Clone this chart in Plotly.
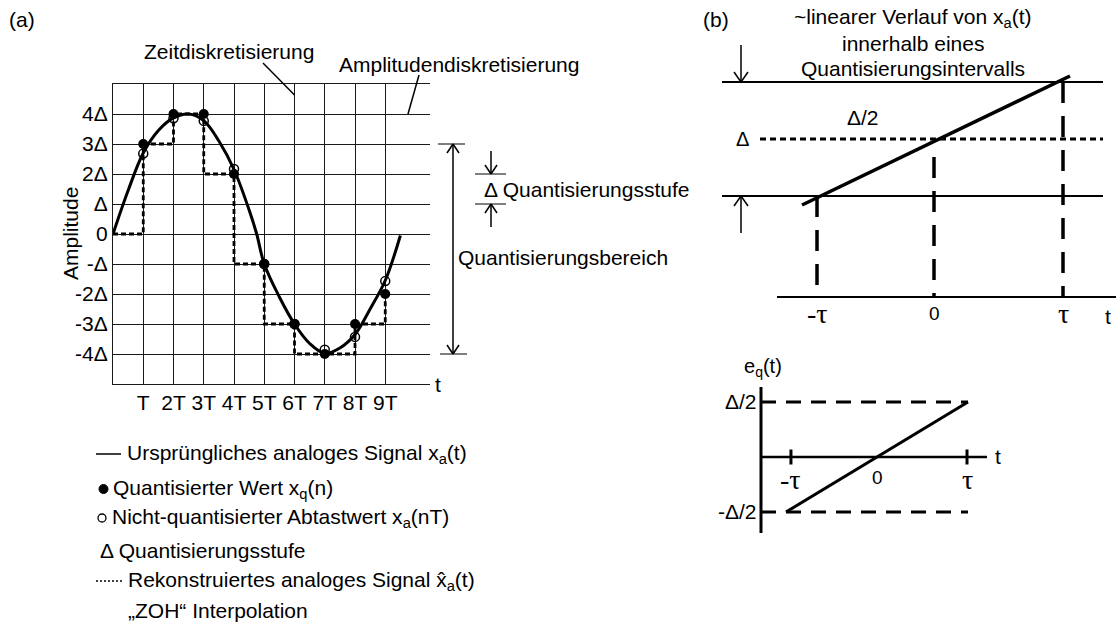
import plotly.graph_objects as go

W, H = 1116, 626
SANS = "Arial, 'Liberation Sans', Helvetica, sans-serif"
SERIF = "'Liberation Serif', 'Times New Roman', serif"
INK = "#000000"
GRID = "#1a1a1a"
FS = 21

# ---------------- Panel (a) data ----------------
curve_t = [0, 0.5, 1, 1.5, 2, 2.5, 3, 3.5, 4, 4.5, 4.75, 5, 5.5, 6, 6.5, 7, 7.5, 8, 8.5, 9, 9.5]
curve_v = [0, 1.45, 2.7, 3.45, 3.87, 4.0, 3.78, 3.1, 2.15, 0.8, 0.0, -1.0, -2.1, -3.0, -3.65, -3.98,
           -3.8, -3.35, -2.5, -1.55, -0.05]
sample_n = [1, 2, 3, 4, 5, 6, 7, 8, 9]
quantized_v = [3, 4, 4, 2, -1, -3, -4, -3, -2]
sampled_v = [2.68, 3.86, 3.77, 2.17, -1.0, -3.0, -3.86, -3.43, -1.57]
zoh_t = [0, 1, 2, 3, 4, 5, 6, 7, 8, 9]
zoh_v = [0, 3, 4, 2, -1, -3, -4, -4, -3, -2]
a_xtick_vals = [1, 2, 3, 4, 5, 6, 7, 8, 9]
a_xtick_text = ["T", "2T", "3T", "4T", "5T", "6T", "7T", "8T", "9T"]
a_ytick_vals = [-4, -3, -2, -1, 0, 1, 2, 3, 4]
a_ytick_text = ["-4Δ", "-3Δ", "-2Δ", "-Δ", "0", "Δ", "2Δ", "3Δ", "4Δ"]
range_top, range_bottom = 3, -4          # Quantisierungsbereich
step_top, step_bottom = 2, 1             # Quantisierungsstufe

# ---------------- Panel (b) top data ----------------
b1_upper, b1_mid, b1_lower = 0.5, 0.0, -0.5
b1_ramp_x = [-1.023, 1.054]
b1_ramp_y = [-0.579, 0.553]
b1_tick_vals = [-0.907, 0.0, 1.0]
b1_tick_text = ["-τ", "0", "τ"]
b1_drop_top = [-0.5, -0.158, 0.5]
b1_axis_y = -1.386

# ---------------- Panel (b) bottom data ----------------
b2_ramp_x = [-1.011, 1.011]
b2_ramp_y = [-0.5, 0.5]
b2_levels = [0.5, -0.5]
b2_level_text = ["Δ/2", "-Δ/2"]
b2_tick_vals = [-0.956, 1.0]
b2_label_vals = [-0.956, 0.0, 1.0]
b2_label_text = ["-τ", "0", "τ"]


def fx(px):
    return px / W


def fy(py):
    return 1 - py / H


# ---------------- geometry ----------------
A_X0, A_X1, A_T = 113, 430, 30.25
A_Y0, A_Y1 = 84, 384
B1_OX, B1_OY, B1_SX, B1_SY = 934, 139, 129, 114
B1_TOP, B1_BOT = 0, 330
B2_OX, B2_OY, B2_SX, B2_SY = 877, 457, 90, 110
B2_TOP, B2_BOT = 340, 626
B_LEFT = 700

fig = go.Figure()

# ---- panel (a) traces ----
fig.add_trace(go.Scatter(x=zoh_t, y=zoh_v, mode="lines", line=dict(color=INK, width=2.8, dash="5px,3px", shape="hv"),
                         xaxis="x", yaxis="y", hoverinfo="skip"))
fig.add_trace(go.Scatter(x=curve_t, y=curve_v, mode="lines", line=dict(color=INK, width=3, shape="spline", smoothing=1.0),
                         xaxis="x", yaxis="y", hoverinfo="skip"))
fig.add_trace(go.Scatter(x=sample_n, y=sampled_v, mode="markers",
                         marker=dict(symbol="circle-open", size=9, color=INK, line=dict(width=1.5, color=INK)),
                         xaxis="x", yaxis="y", hoverinfo="skip"))
fig.add_trace(go.Scatter(x=sample_n, y=quantized_v, mode="markers",
                         marker=dict(symbol="circle", size=10, color=INK),
                         xaxis="x", yaxis="y", hoverinfo="skip"))

# ---- panel (b) top traces ----
b1_xl = (722 - B1_OX) / B1_SX
b1_xr = (1103 - B1_OX) / B1_SX
b1_xmid_l = (760 - B1_OX) / B1_SX
b1_axis_l = (777 - B1_OX) / B1_SX
b1_axis_r = (1116 - B1_OX) / B1_SX
fig.add_trace(go.Scatter(x=[b1_xl, b1_xr], y=[b1_upper, b1_upper], mode="lines", line=dict(color=INK, width=2),
                         xaxis="x2", yaxis="y2", hoverinfo="skip"))
fig.add_trace(go.Scatter(x=[b1_xl, b1_xr], y=[b1_lower, b1_lower], mode="lines", line=dict(color=INK, width=2),
                         xaxis="x2", yaxis="y2", hoverinfo="skip"))
fig.add_trace(go.Scatter(x=[b1_xmid_l, b1_xr], y=[b1_mid, b1_mid], mode="lines",
                         line=dict(color=INK, width=3, dash="6px,4px"), xaxis="x2", yaxis="y2", hoverinfo="skip"))
for tv, top in zip(b1_tick_vals, b1_drop_top):
    fig.add_trace(go.Scatter(x=[tv, tv], y=[top, b1_axis_y], mode="lines",
                             line=dict(color=INK, width=3.5, dash="21px,13px"), xaxis="x2", yaxis="y2", hoverinfo="skip"))
fig.add_trace(go.Scatter(x=b1_ramp_x, y=b1_ramp_y, mode="lines", line=dict(color=INK, width=3.5),
                         xaxis="x2", yaxis="y2", hoverinfo="skip"))
fig.add_trace(go.Scatter(x=[b1_axis_l, b1_axis_r], y=[b1_axis_y, b1_axis_y], mode="lines", line=dict(color=INK, width=2),
                         xaxis="x2", yaxis="y2", hoverinfo="skip"))

# ---- panel (b) bottom traces ----
b2_axis_x = (761 - B2_OX) / B2_SX
b2_axis_r = (987 - B2_OX) / B2_SX
b2_dash_r = (968 - B2_OX) / B2_SX
b2_vtop = (B2_OY - 387) / B2_SY
b2_vbot = (B2_OY - 533) / B2_SY
b2_tick_h = 7.5 / B2_SY
for lv in b2_levels:
    fig.add_trace(go.Scatter(x=[b2_axis_x, b2_dash_r], y=[lv, lv], mode="lines",
                             line=dict(color=INK, width=3, dash="15px,10px"), xaxis="x3", yaxis="y3", hoverinfo="skip"))
fig.add_trace(go.Scatter(x=[b2_axis_x, b2_axis_x], y=[b2_vtop, b2_vbot], mode="lines", line=dict(color=INK, width=3),
                         xaxis="x3", yaxis="y3", hoverinfo="skip"))
fig.add_trace(go.Scatter(x=[b2_axis_x, b2_axis_r], y=[0, 0], mode="lines", line=dict(color=INK, width=2.5),
                         xaxis="x3", yaxis="y3", hoverinfo="skip"))
for tv in b2_tick_vals:
    fig.add_trace(go.Scatter(x=[tv, tv], y=[-b2_tick_h, b2_tick_h], mode="lines", line=dict(color=INK, width=3),
                             xaxis="x3", yaxis="y3", hoverinfo="skip"))
fig.add_trace(go.Scatter(x=b2_ramp_x, y=b2_ramp_y, mode="lines", line=dict(color=INK, width=3),
                         xaxis="x3", yaxis="y3", hoverinfo="skip"))

annotations = []
shapes = []


def text(t, x, y, xref="paper", yref="paper", size=FS, xanchor="center", yanchor="middle", family=SANS, angle=0):
    annotations.append(dict(text=t, x=x, y=y, xref=xref, yref=yref, showarrow=False, xanchor=xanchor,
                            yanchor=yanchor, textangle=angle, font=dict(family=family, size=size, color=INK)))


def line(x0, y0, x1, y1, xref="paper", yref="paper", width=1.5, dash="solid"):
    shapes.append(dict(type="line", xref=xref, yref=yref, x0=x0, y0=y0, x1=x1, y1=y1,
                       line=dict(color=INK, width=width, dash=dash)))


def chevron(x, y, direction, xref="paper", yref="paper", w=6, h=9, width=1.5):
    # open arrowhead: two short strokes ending at the tip (x, y); sizes in pixels
    dy = h if direction == "down" else -h
    for dx in (-w, w):
        shapes.append(dict(type="line", xref=xref, yref=yref, xsizemode="pixel", ysizemode="pixel",
                           xanchor=x, yanchor=y, x0=0, y0=0, x1=dx, y1=dy,
                           line=dict(color=INK, width=width)))


# ---- panel (a) annotations ----
text("(a)", fx(22), fy(20))
text("Zeitdiskretisierung", fx(229), fy(52))
text("Amplitudendiskretisierung", fx(459), fy(65))
line(fx(263), fy(63), fx(A_X0 + 6 * A_T), fy(95))
line(fx(419), fy(75), fx(408), fy(A_Y0 + 30))
text("t", fx(438), -5, yref="y")
text("Amplitude", fx(70), 0, yref="y", angle=-90)

# range arrow
RX = fx(453)
line(RX, range_top, RX, range_bottom, yref="y")
chevron(RX, range_top, "up", yref="y")
chevron(RX, range_bottom, "down", yref="y")
line(fx(438), range_top, fx(465), range_top, yref="y", width=1)
line(fx(440), range_bottom, fx(467), range_bottom, yref="y", width=1)
text("Quantisierungsbereich", fx(456), -0.77, yref="y", xanchor="left")

# step arrows
SX = fx(491)
line(SX, step_top, SX, step_top + 0.77, yref="y")
chevron(SX, step_top, "down", yref="y")
line(SX, step_bottom, SX, step_bottom - 0.77, yref="y")
chevron(SX, step_bottom, "up", yref="y")
for lv in (step_top, step_bottom):
    line(fx(475), lv, fx(506), lv, yref="y", width=1)
text("Δ Quantisierungsstufe", fx(482), (step_top + step_bottom) / 2, yref="y", xanchor="left")

# legend block
LEG = [454, 489, 518, 550, 581, 610]
line(fx(96), fy(LEG[0]), fx(121), fy(LEG[0]))
text("Ursprüngliches analoges Signal x<sub>a</sub>(t)", fx(125), fy(LEG[0]), xanchor="left")
shapes.append(dict(type="circle", xref="paper", yref="paper", x0=fx(99), x1=fx(108), y0=fy(LEG[1] + 4.5),
                   y1=fy(LEG[1] - 4.5), fillcolor=INK, line=dict(color=INK, width=1)))
text("Quantisierter Wert x<sub>q</sub>(n)", fx(111), fy(LEG[1]), xanchor="left")
shapes.append(dict(type="circle", xref="paper", yref="paper", x0=fx(98), x1=fx(106), y0=fy(LEG[2] + 4),
                   y1=fy(LEG[2] - 4), line=dict(color=INK, width=1.3)))
text("Nicht-quantisierter Abtastwert x<sub>a</sub>(nT)", fx(110), fy(LEG[2]), xanchor="left")
text("Δ Quantisierungsstufe", fx(98), fy(LEG[3]), xanchor="left")
line(fx(96), fy(LEG[4]), fx(124), fy(LEG[4]), width=1.3, dash="2px,2px")
text("Rekonstruiertes analoges Signal x\u0302<sub>a</sub>(t)", fx(126), fy(LEG[4]), xanchor="left")
text("\u201eZOH\u201c Interpolation", fx(126), fy(LEG[5]), xanchor="left")

# ---- panel (b) top annotations ----
text("(b)", fx(716), fy(20))
title_x = (913 - B1_OX) / B1_SX
for ln, py in zip(["~linearer Verlauf von x<sub>a</sub>(t)", "innerhalb eines", "Quantisierungsintervalls"],
                  [18, 43, 68]):
    text(ln, title_x, (B1_OY - py) / B1_SY, xref="x2", yref="y2")
arr_x = (741 - B1_OX) / B1_SX
line(arr_x, b1_upper, arr_x, b1_upper + 37 / B1_SY, xref="x2", yref="y2")
chevron(arr_x, b1_upper, "down", xref="x2", yref="y2", w=7, h=10)
line(arr_x, b1_lower, arr_x, b1_lower - 37 / B1_SY, xref="x2", yref="y2")
chevron(arr_x, b1_lower, "up", xref="x2", yref="y2", w=7, h=10)
text("Δ", (742 - B1_OX) / B1_SX, b1_mid, xref="x2", yref="y2", size=20)
text("Δ/2", (863 - B1_OX) / B1_SX, (B1_OY - 117) / B1_SY, xref="x2", yref="y2")
label_y1 = (B1_OY - 313) / B1_SY
for tv, tt in zip(b1_tick_vals, b1_tick_text):
    if tt == "0":
        text(tt, tv, label_y1, xref="x2", yref="y2", size=19)
    else:
        text(tt, tv, label_y1, xref="x2", yref="y2", size=28, family=SERIF)
text("t", (1108 - B1_OX) / B1_SX, (B1_OY - 316) / B1_SY, xref="x2", yref="y2")

# ---- panel (b) bottom annotations ----
text("e<sub>q</sub>(t)", (763 - B2_OX) / B2_SX, (B2_OY - 368) / B2_SY, xref="x3", yref="y3", size=20)
text("t", (998 - B2_OX) / B2_SX, 0, xref="x3", yref="y3")
for lv, lt in zip(b2_levels, b2_level_text):
    text(lt, (759 - B2_OX) / B2_SX, lv, xref="x3", yref="y3", xanchor="right")
label_y2 = (B2_OY - 480) / B2_SY
for tv, tt in zip(b2_label_vals, b2_label_text):
    if tt == "0":
        text(tt, tv, (B2_OY - 478) / B2_SY, xref="x3", yref="y3", size=19)
    else:
        text(tt, tv, label_y2, xref="x3", yref="y3", size=28, family=SERIF)

hidden = dict(visible=False, fixedrange=True)
fig.update_layout(
    width=W, height=H, autosize=False,
    margin=dict(l=0, r=0, t=0, b=0, pad=0),
    paper_bgcolor="white", plot_bgcolor="white",
    showlegend=False,
    font=dict(family=SANS, size=FS, color=INK),
    xaxis=dict(domain=[fx(A_X0), fx(A_X1)], range=[0, (A_X1 - A_X0) / A_T], tickmode="array",
               tickvals=a_xtick_vals, ticktext=a_xtick_text, showgrid=True, gridcolor=GRID, gridwidth=1,
               zeroline=False, showline=True, linecolor=GRID, linewidth=1, mirror=True, ticks="",
               tickfont=dict(family=SANS, size=FS, color=INK), anchor="y", fixedrange=True),
    yaxis=dict(domain=[fy(A_Y1), fy(A_Y0)], range=[-5, 5], tickmode="array",
               tickvals=a_ytick_vals, ticktext=a_ytick_text, showgrid=True, gridcolor=GRID, gridwidth=1,
               zeroline=False, showline=True, linecolor=GRID, linewidth=1, ticks="", ticklabelstandoff=0,
               tickfont=dict(family=SANS, size=FS, color=INK), anchor="x", fixedrange=True),
    xaxis2=dict(domain=[fx(B_LEFT), 1], range=[(B_LEFT - B1_OX) / B1_SX, (W - B1_OX) / B1_SX], anchor="y2", **hidden),
    yaxis2=dict(domain=[fy(B1_BOT), fy(B1_TOP)], range=[(B1_OY - B1_BOT) / B1_SY, (B1_OY - B1_TOP) / B1_SY],
                anchor="x2", **hidden),
    xaxis3=dict(domain=[fx(B_LEFT), 1], range=[(B_LEFT - B2_OX) / B2_SX, (W - B2_OX) / B2_SX], anchor="y3", **hidden),
    yaxis3=dict(domain=[fy(B2_BOT), fy(B2_TOP)], range=[(B2_OY - B2_BOT) / B2_SY, (B2_OY - B2_TOP) / B2_SY],
                anchor="x3", **hidden),
    annotations=annotations,
    shapes=shapes,
)

fig.write_html("out.html", config={"displayModeBar": False, "staticPlot": True})
